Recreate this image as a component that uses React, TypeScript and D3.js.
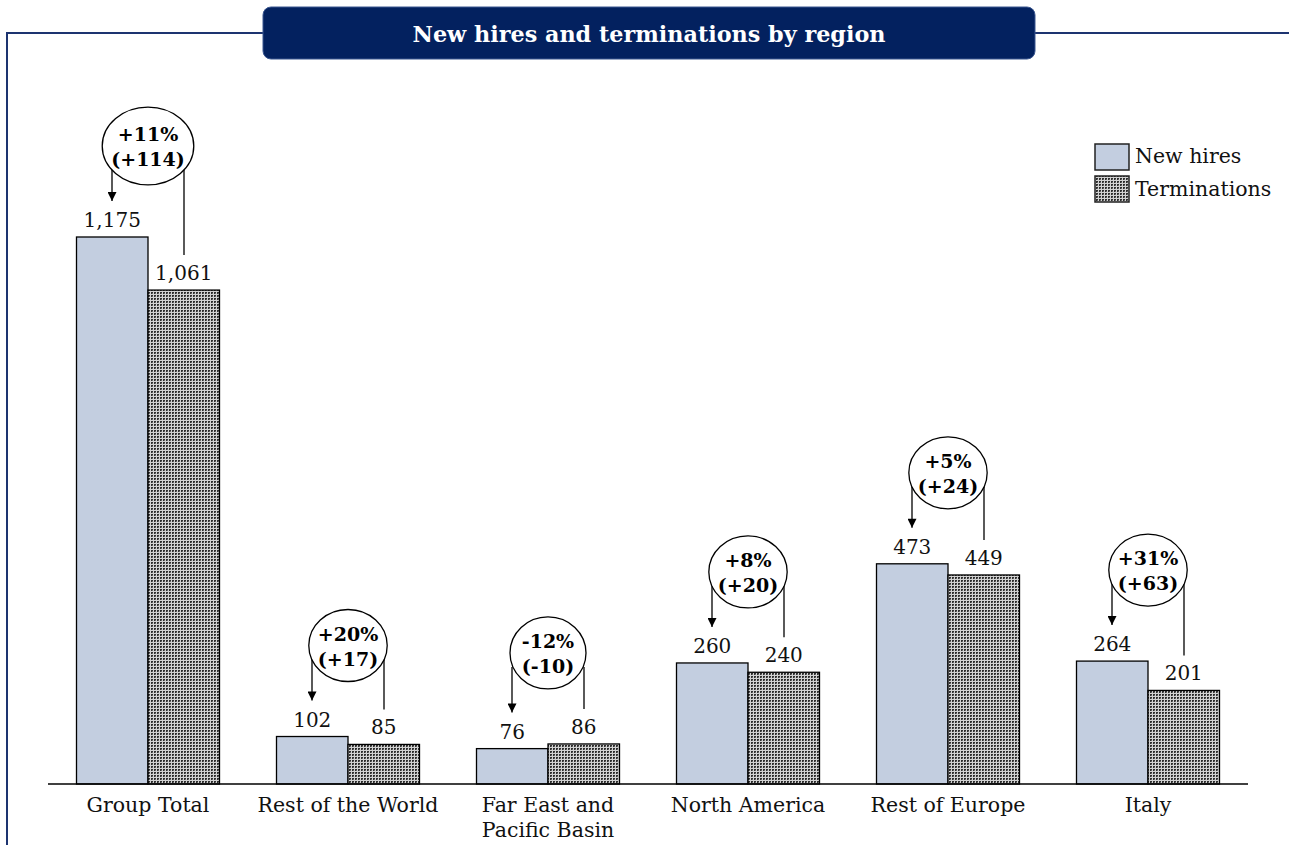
import React, { useEffect, useRef } from "react";
import * as d3 from "d3";

const categories = [
  "Group Total",
  "Rest of the World",
  "Far East and\nPacific Basin",
  "North America",
  "Rest of Europe",
  "Italy",
];
const newHires = [1175, 102, 76, 260, 473, 264];
const terminations = [1061, 85, 86, 240, 449, 201];
const pctChange = ["+11%", "+20%", "-12%", "+8%", "+5%", "+31%"];
const absChange = ["(+114)", "(+17)", "(-10)", "(+20)", "(+24)", "(+63)"];
const seriesNames = ["New hires", "Terminations"];
const chartTitle = "New hires and terminations by region";

const W = 1289;
const H = 845;
const FONT = "'DejaVu Serif', serif";
const NAVY = "#03215f";
const FRAME = "#1d3470";
const BAR_FILL = "#c3cee0";

export default function App() {
  const ref = useRef<SVGSVGElement | null>(null);

  useEffect(() => {
    const svg = d3.select(ref.current);
    svg.selectAll("*").remove();

    const defs = svg.append("defs");
    const pat = defs
      .append("pattern")
      .attr("id", "chk")
      .attr("width", 3)
      .attr("height", 3)
      .attr("patternUnits", "userSpaceOnUse");
    pat.append("rect").attr("width", 3).attr("height", 3).attr("fill", "#d2d2d2");
    pat.append("rect").attr("x", 1).attr("y", 1).attr("width", 2).attr("height", 2).attr("fill", "#2e2e2e");
    pat.append("rect").attr("x", 2).attr("y", 2).attr("width", 1).attr("height", 1).attr("fill", "#6a6a6a");

    const marker = defs
      .append("marker")
      .attr("id", "arrow")
      .attr("viewBox", "0 0 10 10")
      .attr("refX", 10)
      .attr("refY", 5)
      .attr("markerWidth", 11)
      .attr("markerHeight", 9)
      .attr("markerUnits", "userSpaceOnUse")
      .attr("orient", "auto");
    marker.append("path").attr("d", "M0,0 L10,5 L0,10 Z").attr("fill", "#000");

    // frame
    svg
      .append("path")
      .attr("d", `M7,${H} V33 H263 M1035,33 H${W}`)
      .attr("fill", "none")
      .attr("stroke", FRAME)
      .attr("stroke-width", 2);

    // title box
    svg
      .append("rect")
      .attr("x", 263)
      .attr("y", 7)
      .attr("width", 772)
      .attr("height", 52)
      .attr("rx", 8)
      .attr("fill", NAVY)
      .attr("stroke", "#3a5690")
      .attr("stroke-width", 1);
    svg
      .append("text")
      .attr("x", 649)
      .attr("y", 42)
      .attr("text-anchor", "middle")
      .attr("fill", "#fff")
      .attr("font-family", FONT)
      .attr("font-weight", "bold")
      .attr("font-size", 22.3)
      .text(chartTitle);

    const x0 = d3
      .scaleBand<string>()
      .domain(categories)
      .range([48, 1248])
      .paddingInner(0.285)
      .paddingOuter(0.1425);
    const x1 = d3.scaleBand<string>().domain(seriesNames).range([0, x0.bandwidth()]);
    const y = d3.scaleLinear().domain([0, 1175]).range([784, 237]);
    const fmt = d3.format(",");

    const data = categories.map((c, i) => ({
      c,
      vals: [newHires[i], terminations[i]],
      pct: pctChange[i],
      abs: absChange[i],
    }));

    const g = svg.append("g");
    data.forEach((d) => {
      const gx = x0(d.c)!;
      d.vals.forEach((v, j) => {
        const s = seriesNames[j];
        g.append("rect")
          .attr("x", gx + x1(s)!)
          .attr("y", y(v))
          .attr("width", x1.bandwidth())
          .attr("height", y(0) - y(v))
          .attr("fill", j === 0 ? BAR_FILL : "url(#chk)")
          .attr("stroke", "#000")
          .attr("stroke-width", 1.3);
        g.append("text")
          .attr("x", gx + x1(s)! + x1.bandwidth() / 2)
          .attr("y", y(v) - 10)
          .attr("text-anchor", "middle")
          .attr("font-family", FONT)
          .attr("font-size", 20)
          .attr("fill", "#111")
          .text(fmt(v));
      });

      // category label
      const cx = gx + x0.bandwidth() / 2;
      d.c.split("\n").forEach((line, k) => {
        g.append("text")
          .attr("x", cx)
          .attr("y", 812 + k * 25)
          .attr("text-anchor", "middle")
          .attr("font-family", FONT)
          .attr("font-size", 20.5)
          .attr("fill", "#111")
          .text(line);
      });

      // bubble
      const top = y(Math.max(d.vals[0], d.vals[1]));
      const cy = top - 91;
      const t1 = g
        .append("text")
        .attr("x", cx)
        .attr("y", cy - 5)
        .attr("text-anchor", "middle")
        .attr("font-family", FONT)
        .attr("font-weight", "bold")
        .attr("font-size", 19)
        .attr("fill", "#000")
        .text(d.pct);
      const t2 = g
        .append("text")
        .attr("x", cx)
        .attr("y", cy + 20)
        .attr("text-anchor", "middle")
        .attr("font-family", FONT)
        .attr("font-weight", "bold")
        .attr("font-size", 19)
        .attr("fill", "#000")
        .text(d.abs);
      const tw = Math.max(
        (t1.node() as SVGTextElement).getComputedTextLength(),
        (t2.node() as SVGTextElement).getComputedTextLength()
      );
      const rx = Math.max(38, tw / 2 + 9);
      const ry = Math.max(36, rx - 7);
      g.insert("ellipse", "text")
        .attr("cx", cx)
        .attr("cy", cy)
        .attr("rx", rx)
        .attr("ry", ry)
        .attr("fill", "#fff")
        .attr("stroke", "#000")
        .attr("stroke-width", 1.3);
      t1.raise();
      t2.raise();

      const off = 36;
      const edge = cy + ry * Math.sqrt(Math.max(0.15, 1 - (off / rx) ** 2));
      g.append("line")
        .attr("x1", cx - off)
        .attr("x2", cx - off)
        .attr("y1", edge)
        .attr("y2", y(d.vals[0]) - 36)
        .attr("stroke", "#000")
        .attr("stroke-width", 1.3)
        .attr("marker-end", "url(#arrow)");
      g.append("line")
        .attr("x1", cx + off)
        .attr("x2", cx + off)
        .attr("y1", edge)
        .attr("y2", y(d.vals[1]) - 35)
        .attr("stroke", "#000")
        .attr("stroke-width", 1.3);
    });

    // axis baseline
    svg
      .append("line")
      .attr("x1", 48)
      .attr("x2", 1248)
      .attr("y1", y(0))
      .attr("y2", y(0))
      .attr("stroke", "#000")
      .attr("stroke-width", 1.5);

    // legend
    const lg = svg.append("g");
    seriesNames.forEach((s, i) => {
      lg.append("rect")
        .attr("x", 1095)
        .attr("y", 144 + i * 32)
        .attr("width", 34)
        .attr("height", 26)
        .attr("fill", i === 0 ? BAR_FILL : "url(#chk)")
        .attr("stroke", "#222")
        .attr("stroke-width", 1.5);
      lg.append("text")
        .attr("x", 1135)
        .attr("y", 163 + i * 33)
        .attr("font-family", FONT)
        .attr("font-size", 20.5)
        .attr("fill", "#111")
        .text(s);
    });
  }, []);

  return (
    <svg
      ref={ref}
      width={W}
      height={H}
      style={{ position: "absolute", left: 0, top: 0, background: "#fff" }}
    />
  );
}
